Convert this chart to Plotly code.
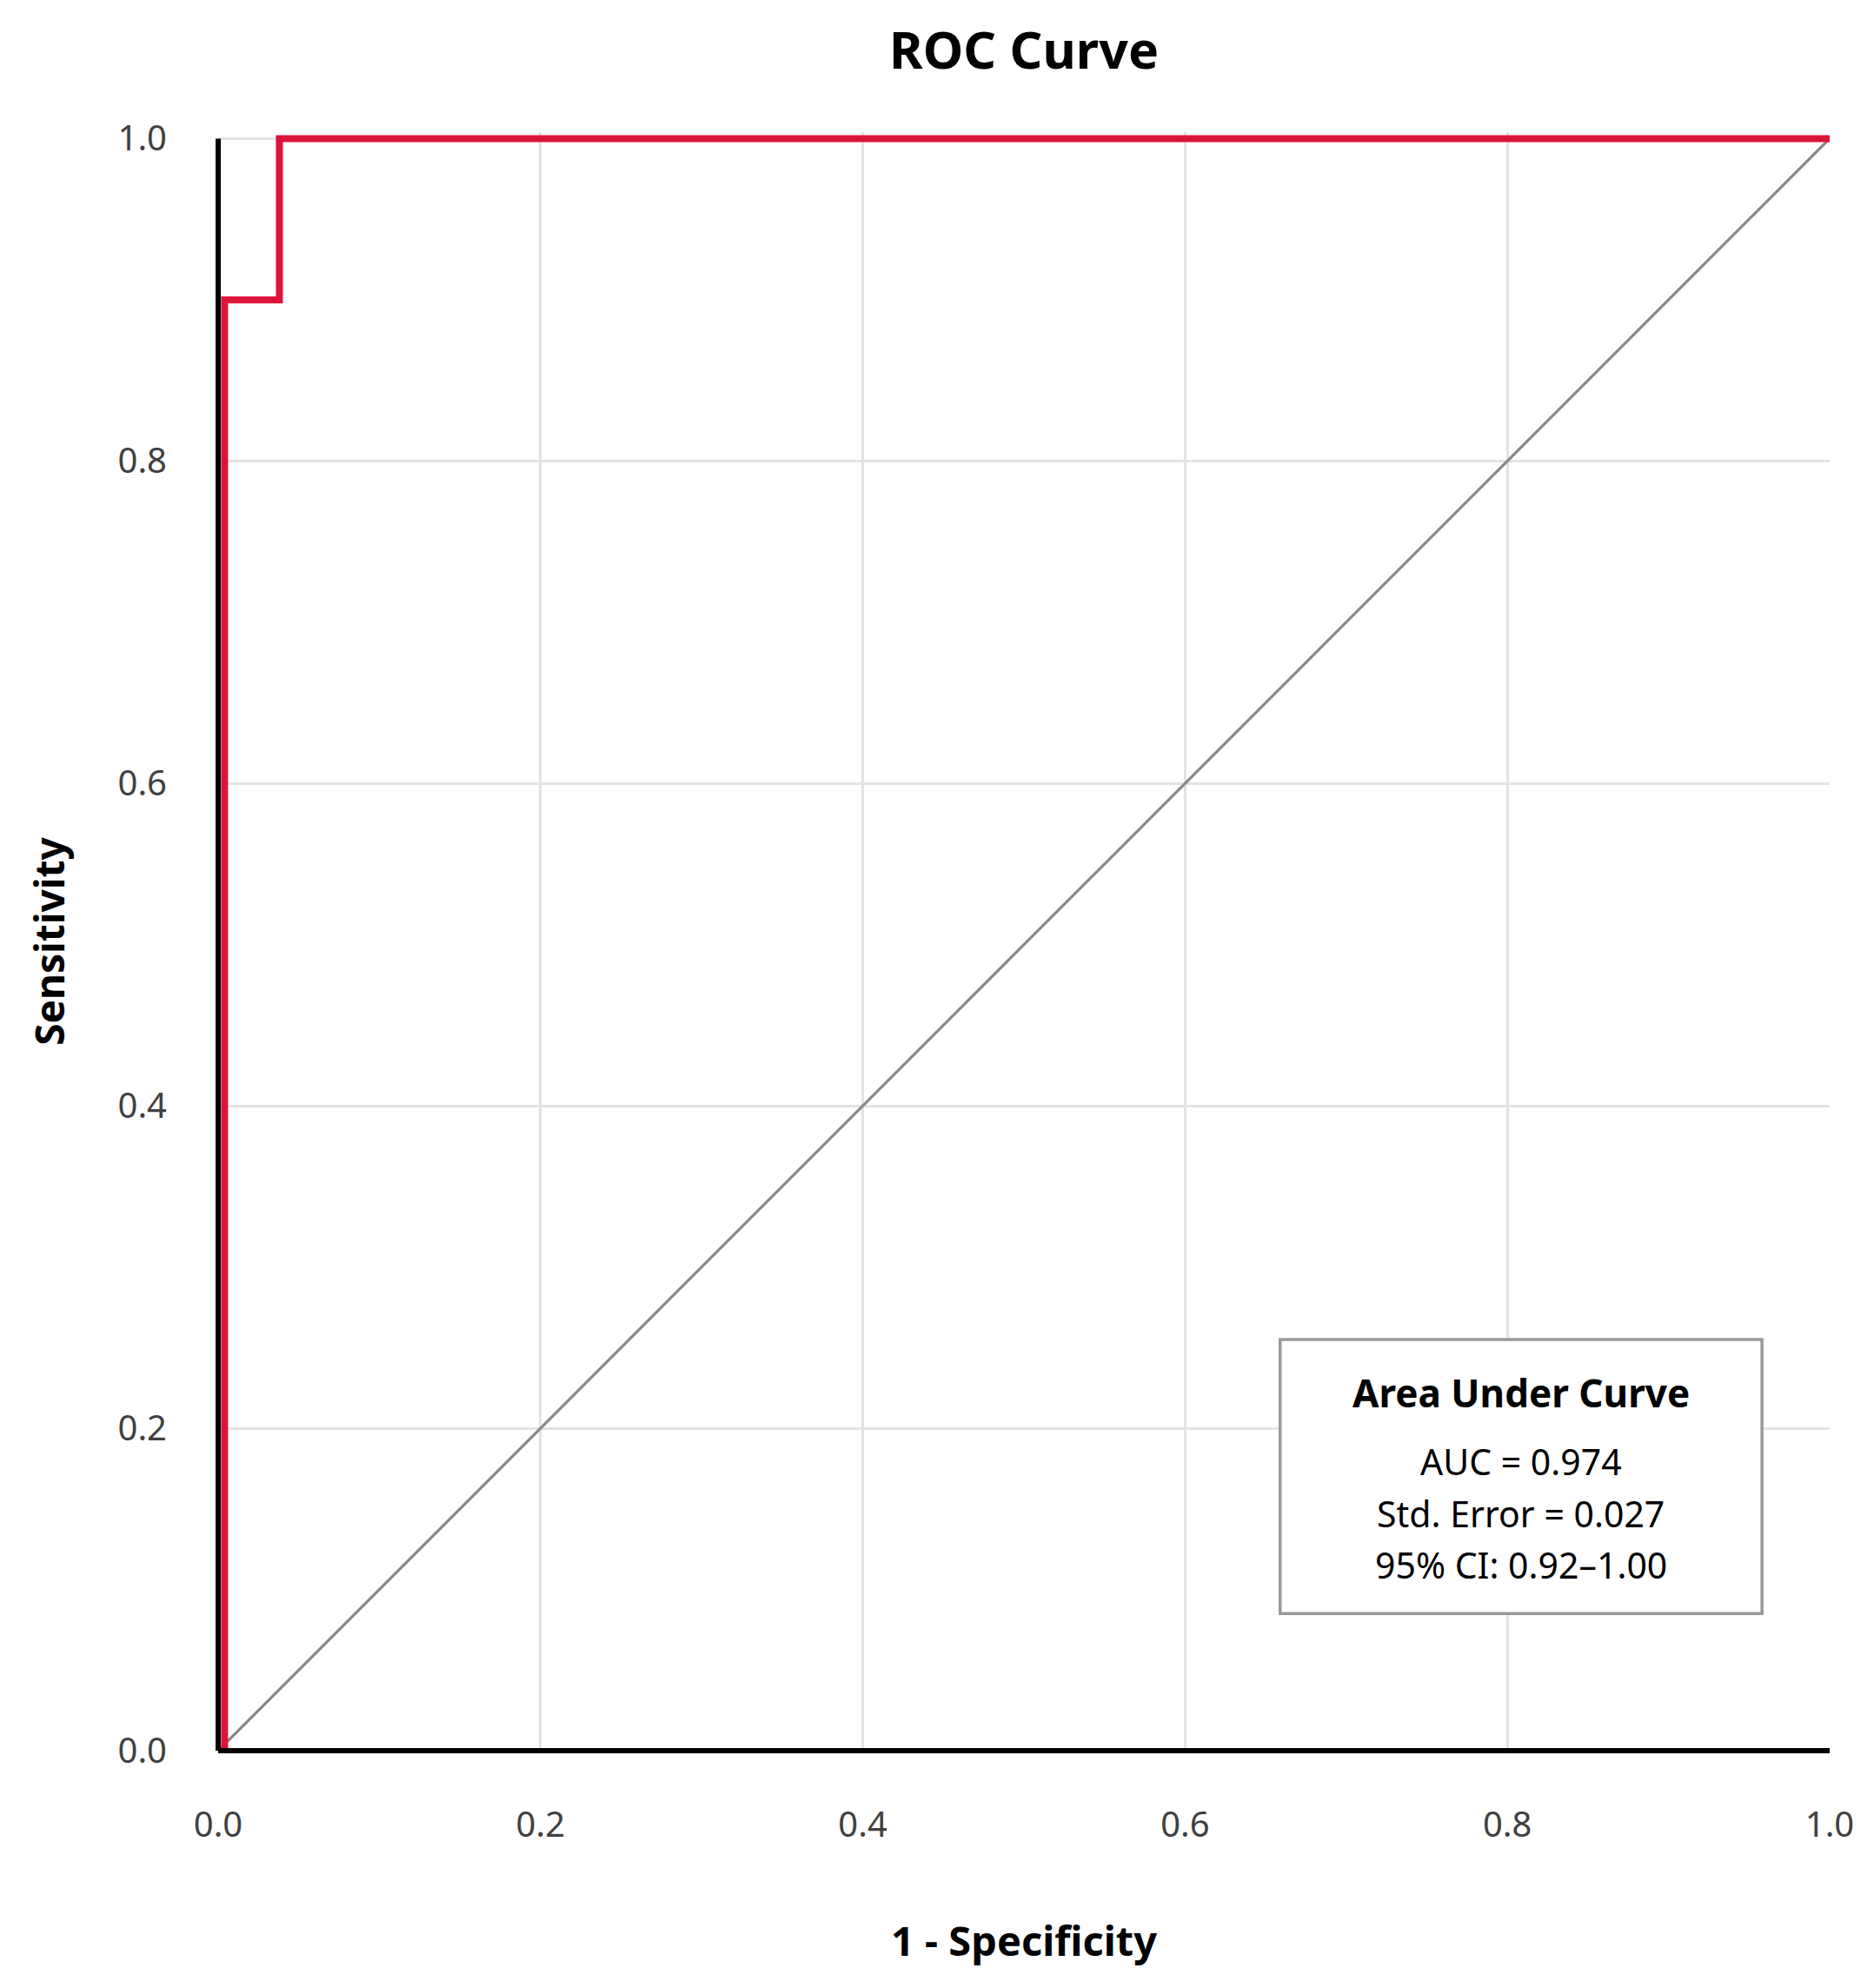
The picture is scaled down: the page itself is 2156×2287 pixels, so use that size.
import plotly.graph_objects as go

# ROC curve points (1 - specificity, sensitivity)
fpr = [0.004, 0.004, 0.038, 0.038, 1.0]
tpr = [0.0, 0.9, 0.9, 1.0, 1.0]

# chance line
ref_x = [0.0, 1.0]
ref_y = [0.0, 1.0]

tick_vals = [0.0, 0.2, 0.4, 0.6, 0.8, 1.0]
tick_text = ["0.0", "0.2", "0.4", "0.6", "0.8", "1.0"]

auc_title = "Area Under Curve"
auc_lines = ["AUC = 0.974", "Std. Error = 0.027", "95% CI: 0.92–1.00"]

FONT = "Noto Sans, Open Sans, sans-serif"

fig = go.Figure()

fig.add_trace(go.Scatter(
    x=ref_x, y=ref_y, mode="lines",
    line=dict(color="#888888", width=3.2),
    hoverinfo="skip", showlegend=False,
))
fig.add_trace(go.Scatter(
    x=fpr, y=tpr, mode="lines",
    line=dict(color="#DC143C", width=8),
    showlegend=False, name="ROC",
))

axis_common = dict(
    tickvals=tick_vals,
    ticktext=tick_text,
    showgrid=True,
    gridcolor="#e3e3e3",
    gridwidth=3,
    zeroline=False,
    showline=False,
    ticks="",
    tickfont=dict(family=FONT, size=40, color="#404040"),
    title_font=dict(family=FONT, size=47, color="#000000"),
)

fig.update_xaxes(
    **axis_common,
    range=[0, 1],
    title_text="<b>1 - Specificity</b>",
    ticklabelstandoff=58,
    title_standoff=93,
)
# a little headroom so the curve at 1.0 is not clipped
fig.update_yaxes(
    **axis_common,
    range=[0, 1.004],
    title_text="<b>Sensitivity</b>",
    ticklabelstandoff=58,
    title_standoff=46,
)
fig.update_yaxes(title_font_size=46)

# black axis lines on the left and bottom
fig.add_shape(type="line", xref="paper", yref="y", x0=0, x1=0, y0=0, y1=1,
              line=dict(color="#000000", width=6))
fig.add_shape(type="line", xref="paper", yref="paper", x0=0, x1=1, y0=0, y1=0,
              line=dict(color="#000000", width=6))

# AUC box
fig.add_shape(type="rect", xref="x", yref="y", x0=0.659, x1=0.958, y0=0.085, y1=0.255,
              line=dict(color="#999999", width=3.5), fillcolor="white", layer="above")
fig.add_annotation(x=0.8085, y=0.2221, xref="x", yref="y", showarrow=False,
                   text="<b>" + auc_title + "</b>",
                   font=dict(family=FONT, size=44, color="#000000"))
for txt, yy in zip(auc_lines, [0.1795, 0.1472, 0.1154]):
    fig.add_annotation(x=0.8085, y=yy, xref="x", yref="y", showarrow=False,
                       text=txt, font=dict(family=FONT, size=41, color="#000000"))

fig.update_layout(
    width=2156, height=2287,
    margin=dict(l=243, r=59, t=144, b=281),
    plot_bgcolor="white",
    paper_bgcolor="white",
    title=dict(text="<b>ROC Curve</b>", x=0.5427, xanchor="center", y=0.9781, yanchor="middle",
               font=dict(family=FONT, size=59, color="#000000")),
)

fig.write_html("out.html")
